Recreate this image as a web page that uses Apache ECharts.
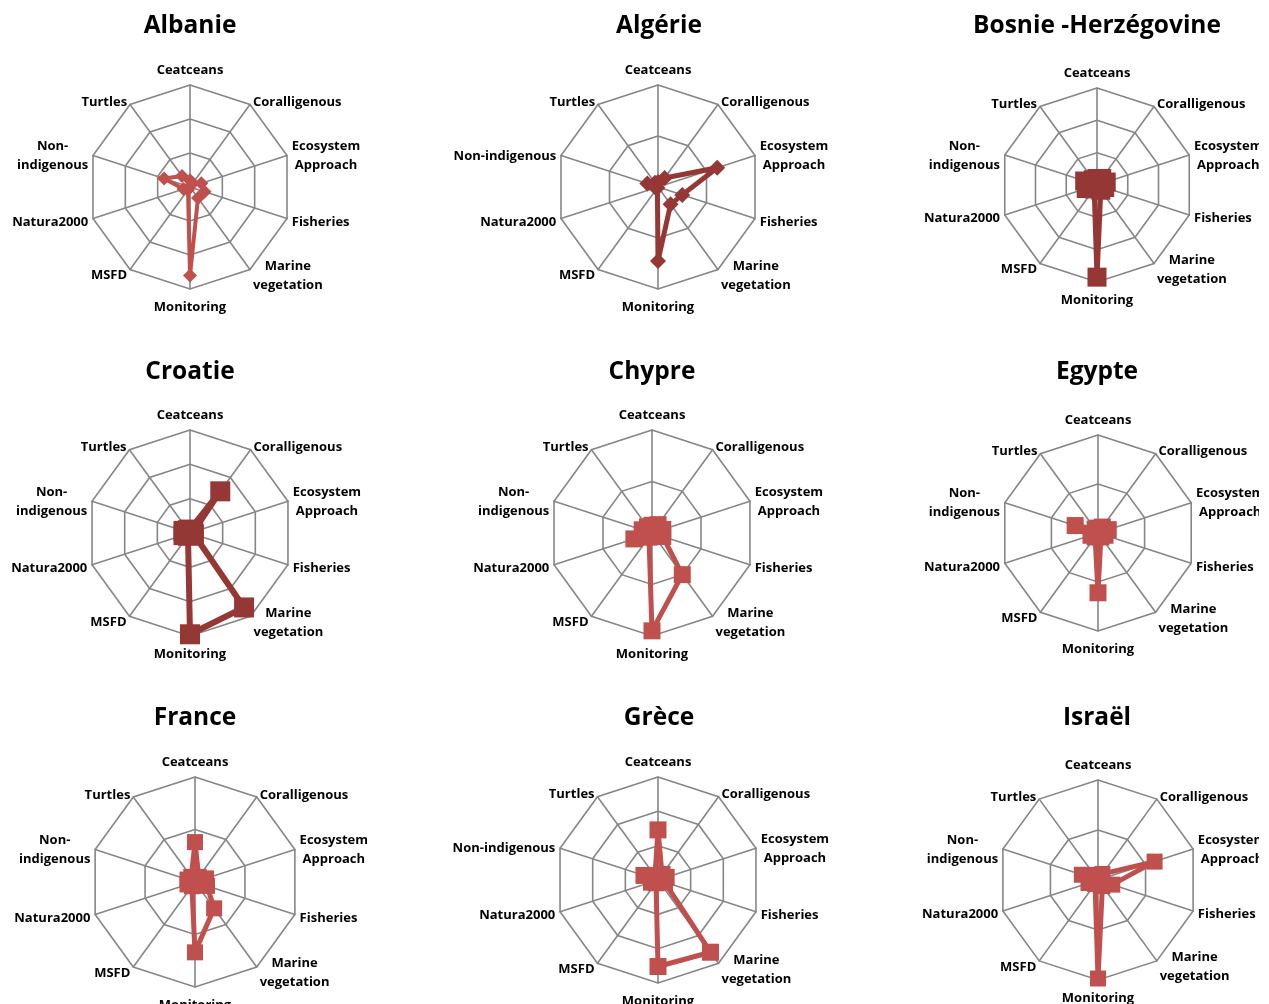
<!DOCTYPE html>
<html><head><meta charset="utf-8">
<script src="https://cdn.jsdelivr.net/npm/echarts@6/dist/echarts.min.js"></script>
<style>html,body{margin:0;padding:0;background:#fff}#c{width:1269px;height:1004px}</style>
</head><body><div id="c"></div>
<script>
// ---- data ----
const categories = ['Ceatceans','Coralligenous','Ecosystem\nApproach','Fisheries','Marine\nvegetation','Monitoring','MSFD','Natura2000','Non-\nindigenous','Turtles'];
const countries = ['Albanie','Algérie','Bosnie -Herzégovine','Croatie','Chypre','Egypte','France','Grèce','Israël'];
const ringCounts = [3,2,3,3,2,2,2,3,2];
const nonIndigenousOneLine = [false,true,false,false,false,false,false,true,false];
const albanie  = [0.2, 0.12, 0.35, 0.45, 0.4, 2.6, 0.1, 0.2, 0.8, 0.4];
const algerie  = [0.1, 0.22, 1.22, 0.5, 0.42, 1.45, 0.02, 0.05, 0.22, 0.1];
const bosnie   = [0.2, 0.25, 0.3, 0.25, 0.2, 2.85, 0.15, 0.35, 0.4, 0.2];
const croatie  = [0.1, 1.5, 0.1, 0.12, 2.68, 2.95, 0.1, 0.2, 0.2, 0.1];
const chypre   = [0.15, 0.2, 0.22, 0.22, 1.0, 1.9, 0.1, 0.37, 0.2, 0.15];
const egypte   = [0.1, 0.15, 0.22, 0.15, 0.1, 1.22, 0.1, 0.15, 0.49, 0.1];
const france   = [0.76, 0.12, 0.22, 0.24, 0.62, 1.34, 0.1, 0.15, 0.15, 0.12];
const grece    = [1.46, 0.2, 0.25, 0.2, 2.6, 2.52, 0.1, 0.2, 0.43, 0.15];
const israel   = [0.1, 0.15, 1.19, 0.3, 0.15, 1.97, 0.1, 0.2, 0.34, 0.1];
const seriesValues = [albanie, algerie, bosnie, croatie, chypre, egypte, france, grece, israel];

// ---- layout & style ----
const centers = [[190,187],[658,187],[1097,185],[190,533],[652,533],[1098,533],[195,882],[658,880],[1098,880]];
const radii = [102,102,97,103,103,98,105,103,100];
const titleTops = [14,14,14,360,360,360,706,706,706];
const titleX = [190,659,1097,190,652,1097,195,659,1097];
const DARK = '#953735', LIGHT = '#C0504D';
const colors = [LIGHT, DARK, DARK, DARK, LIGHT, LIGHT, LIGHT, LIGHT, LIGHT];
const symbols = ['diamond','diamond','rect','rect','rect','rect','rect','rect','rect'];
const symbolSizes = [14,16,19,20,17,17,16,17,16];
const lineWidths = [4,5,5,6,5,5,5,5,5];
const FONT = '"Open Sans", "Noto Sans", sans-serif';
const labelStyle = { color: '#000', fontFamily: FONT, fontWeight: 'bold', fontSize: 13, lineHeight: 19 };

// ECharts radar goes counter-clockwise; reorder to get clockwise layout
const order = [0,9,8,7,6,5,4,3,2,1];

const radar = [], series = [], title = [];
countries.forEach((name, k) => {
  const max = ringCounts[k];
  radar.push({
    center: centers[k], radius: radii[k], startAngle: 90, splitNumber: ringCounts[k],
    shape: 'polygon', nameGap: 5,
    indicator: order.map(i => {
      let n = categories[i];
      if (i === 8 && nonIndigenousOneLine[k]) n = 'Non-indigenous';
      return { name: n, min: 0, max: max };
    }),
    axisName: Object.assign({}, labelStyle, {
      padding: [4, 0, 0, 0],
      formatter: (n) => n.split('\n').map(s => '{c|' + s + '}').join('\n'),
      rich: { c: Object.assign({ align: 'center' }, labelStyle) }
    }),
    splitLine: { lineStyle: { color: '#868686', width: 1.6 } },
    axisLine: { lineStyle: { color: '#868686', width: 1.6 } },
    splitArea: { show: false },
    axisTick: { show: false }, axisLabel: { show: false }
  });
  series.push({
    type: 'radar', radarIndex: k, silent: true,
    symbol: symbols[k], symbolSize: symbolSizes[k],
    lineStyle: { color: colors[k], width: lineWidths[k] },
    itemStyle: { color: colors[k] },
    data: [{ value: order.map(i => seriesValues[k][i]) }]
  });
  title.push({
    text: name, left: titleX[k], top: titleTops[k], textAlign: 'center', padding: 0,
    textStyle: { fontFamily: FONT, fontWeight: 'bold', fontSize: 24.5, color: '#000' }
  });
});

const chart = echarts.init(document.getElementById('c'), null, { renderer: 'canvas' });
chart.setOption({
  animation: false, backgroundColor: '#fff', title, radar, series,
  // right-hand chart boxes end just before the page edge (labels cut off there)
  graphic: [{ type: 'rect', right: 0, top: 0, z: 100, silent: true,
              shape: { width: 10, height: 1004 }, style: { fill: '#fff' } }]
});
</script>
</body></html>
